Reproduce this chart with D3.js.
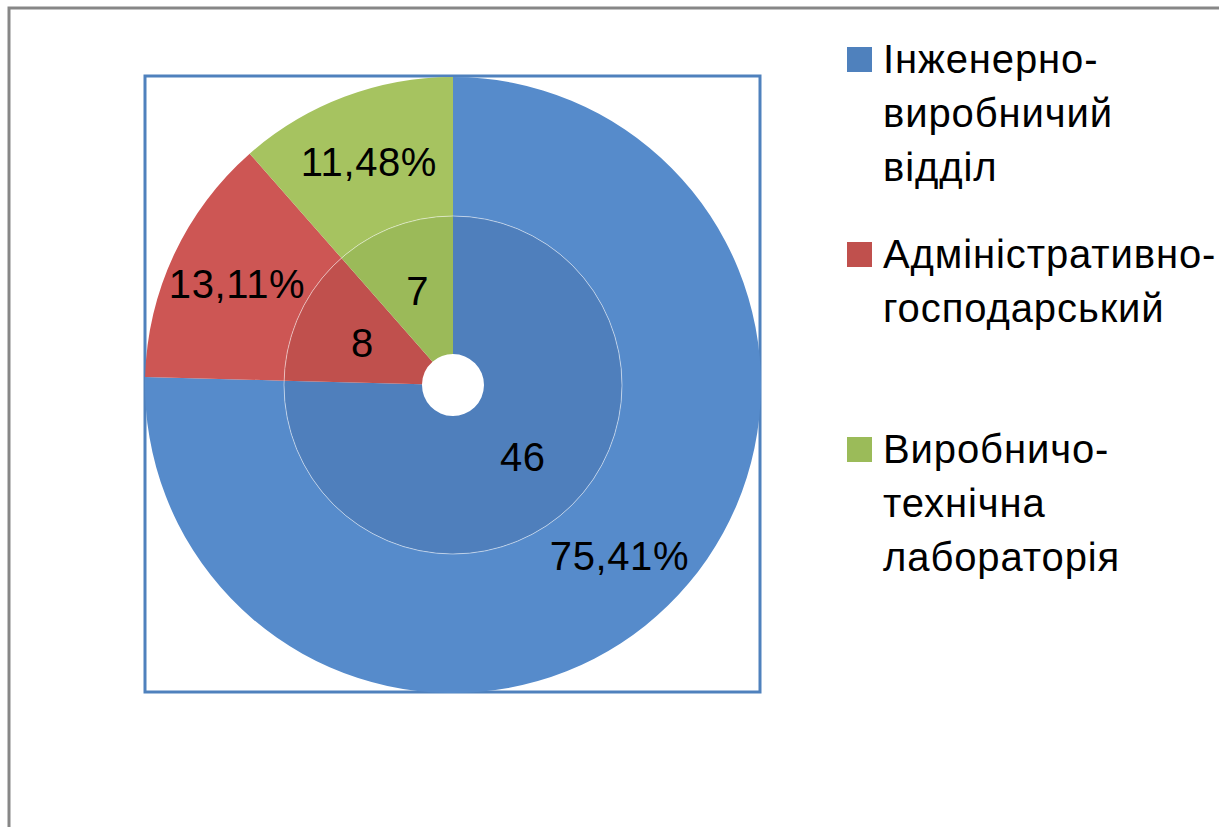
<!DOCTYPE html>
<html>
<head>
<meta charset="utf-8">
<script src="https://cdn.jsdelivr.net/npm/d3@7"></script>
<style>
  body { margin: 0; background: #fff; }
  svg text { font-family: "Liberation Sans", Arial, sans-serif; fill: #000; }
</style>
</head>
<body>
<div id="chart"></div>
<script>
// data
var categories = ['Інженерно-виробничий відділ', 'Адміністративно-господарський', 'Виробничо-технічна лабораторія'];
var legendLines = [['Інженерно-', 'виробничий', 'відділ'], ['Адміністративно-', 'господарський'], ['Виробничо-', 'технічна', 'лабораторія']];
var counts = [46, 8, 7];

var outerColors = ['#568bcb', '#cd5654', '#a6c360'];
var innerColors = ['#4f7fbc', '#c0504d', '#9bba59'];
var legendColors = ['#4f81bd', '#c0504d', '#9bbb59'];

var width = 1219, height = 827;
var cx = 453, cy = 385;
var outerR = 308, midR = 169, holeR = 31;

var svg = d3.select('#chart').append('svg')
  .attr('width', width)
  .attr('height', height);

svg.append('rect').attr('width', width).attr('height', height).attr('fill', '#fff');

// outer chart frame (continues beyond the picture)
svg.append('rect')
  .attr('x', 9).attr('y', 8)
  .attr('width', width + 20).attr('height', height + 20)
  .attr('fill', 'none')
  .attr('stroke', '#878787')
  .attr('stroke-width', 3);

// plot area border
svg.append('rect')
  .attr('x', 145).attr('y', 76)
  .attr('width', 615).attr('height', 616)
  .attr('fill', 'none')
  .attr('stroke', '#4f81bd')
  .attr('stroke-width', 3);

var total = d3.sum(counts);
var pie = d3.pie().sort(null).value(function(d) { return d; });
var arcs = pie(counts);

var outerArc = d3.arc().innerRadius(midR).outerRadius(outerR);
var innerArc = d3.arc().innerRadius(holeR).outerRadius(midR);

var g = svg.append('g').attr('transform', 'translate(' + cx + ',' + cy + ')');

g.selectAll('path.outer')
  .data(arcs)
  .enter().append('path')
  .attr('class', 'outer')
  .attr('d', outerArc)
  .attr('fill', function(d, i) { return outerColors[i]; });

g.selectAll('path.inner')
  .data(arcs)
  .enter().append('path')
  .attr('class', 'inner')
  .attr('d', innerArc)
  .attr('fill', function(d, i) { return innerColors[i]; });

// faint ring between the two series
g.append('circle')
  .attr('r', midR)
  .attr('fill', 'none')
  .attr('stroke', '#fff')
  .attr('stroke-opacity', 0.5)
  .attr('stroke-width', 1);

var pct = function(v) { return d3.format('.2f')(v / total * 100).replace('.', ',') + '%'; };

g.selectAll('text.pct')
  .data(arcs)
  .enter().append('text')
  .attr('class', 'pct')
  .attr('transform', function(d) { return 'translate(' + outerArc.centroid(d) + ')'; })
  .attr('text-anchor', 'middle')
  .attr('dy', 14)
  .style('font-size', '40px')
  .style('letter-spacing', '0.6px')
  .text(function(d) { return pct(d.value); });

g.selectAll('text.cnt')
  .data(arcs)
  .enter().append('text')
  .attr('class', 'cnt')
  .attr('transform', function(d) { return 'translate(' + innerArc.centroid(d) + ')'; })
  .attr('text-anchor', 'middle')
  .attr('dy', 14)
  .style('font-size', '40px')
  .style('letter-spacing', '0.6px')
  .text(function(d) { return d.value; });

// legend
var legendTop = [47, 242, 437];
var lineH = 54;

var legend = svg.selectAll('.legend')
  .data(categories)
  .enter().append('g')
  .attr('class', 'legend')
  .attr('transform', function(d, i) { return 'translate(847,' + legendTop[i] + ')'; });

legend.append('rect')
  .attr('width', 25)
  .attr('height', 25)
  .attr('fill', function(d, i) { return legendColors[i]; });

legend.each(function(d, i) {
  var t = d3.select(this).append('text')
    .attr('x', 36)
    .attr('y', 26)
    .style('font-size', '40px')
    .style('letter-spacing', '0.9px');
  legendLines[i].forEach(function(line, j) {
    t.append('tspan').attr('x', 36).attr('y', 26 + j * lineH).text(line);
  });
});
</script>
</body>
</html>
